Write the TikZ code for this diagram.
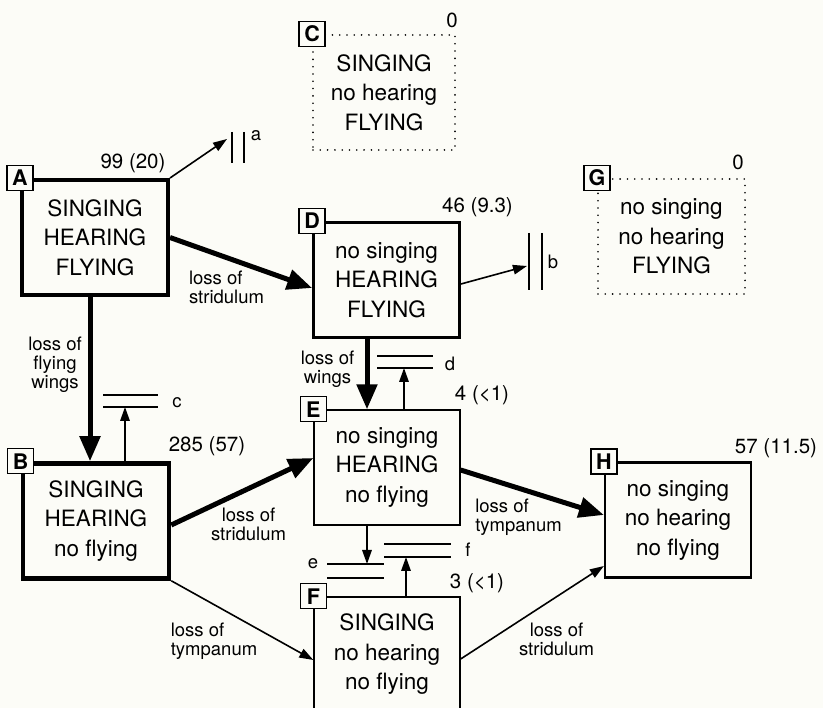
\documentclass[tikz,border=0pt]{standalone}
\usepackage{fontspec}
\setmainfont{TeX Gyre Heros}
\usetikzlibrary{arrows.meta}

\definecolor{paper}{RGB}{252,252,247}

\tikzset{
  statebox/.style={draw, line width=#1, minimum width=146pt, minimum height=115pt,
    inner sep=0pt, align=center, font=\fontsize{22.5}{29.5}\selectfont},
  statebox/.default=1.3pt,
  ghostbox/.style={statebox=1.8pt, dash pattern=on 0pt off 7.3pt, line cap=round},
  tagbox/.style={draw, fill=paper, line width=1.3pt, minimum width=26pt, minimum height=25pt,
    inner sep=0pt, font=\fontsize{21.5}{21.5}\selectfont\bfseries},
  countlbl/.style={inner sep=0pt, font=\fontsize{20.5}{22}\selectfont},
  losslbl/.style={inner sep=0pt, align=#1, font=\fontsize{18.5}{19}\selectfont},
  losslbl/.default=center,
  barlbl/.style={inner sep=0pt, font=\fontsize{18.5}{19}\selectfont},
  bigarrow/.style={line width=5pt, -{Triangle[length=25pt,width=20pt]}},
  smallarrow/.style={line width=1.6pt, -{Triangle[length=14pt,width=9.5pt]}},
  barline/.style={line width=2pt},
}

\begin{document}
\begin{tikzpicture}[x=1pt,y=-1pt]
  \fill[paper] (0,0) rectangle (823,708);
  \useasboundingbox (0,0) rectangle (823,708);

  % states
  \node[statebox=4pt]   (A) at (95,237.5)  {SINGING\\HEARING\\FLYING};
  \node[statebox=4.5pt] (B) at (96,521)    {SINGING\\HEARING\\no flying};
  \node[ghostbox, minimum width=142pt] (C) at (384,92.5) {SINGING\\no hearing\\FLYING};
  \node[statebox=2.8pt] (D) at (386.5,280) {no singing\\HEARING\\FLYING};
  \node[statebox]       (E) at (387,467.5) {no singing\\HEARING\\no flying};
  \node[statebox]       (F) at (387,654.5) {SINGING\\no hearing\\no flying};
  \node[ghostbox, minimum width=147pt] (G) at (671.5,236.5) {no singing\\no hearing\\FLYING};
  \node[statebox=2.2pt] (H) at (678,520)   {no singing\\no hearing\\no flying};

  \foreach \s in {A,B,C,D,E,F,G,H}
    \node[tagbox] (tag\s) at (\s.north west) {\s};

  % counts
  \node[countlbl] (nA) at (133,163)   {99 (20)};
  \node[countlbl] (nB) at (207,446)   {285 (57)};
  \node[countlbl] (nC) at (452,20)    {0};
  \node[countlbl] (nD) at (477.5,207) {46 (9.3)};
  \node[countlbl] (nE) at (482,395)   {4 (<1)};
  \node[countlbl] (nF) at (477,583)   {3 (<1)};
  \node[countlbl] (nG) at (738,162)   {0};
  \node[countlbl] (nH) at (776,448)   {57 (11.5)};

  % dead ends
  \draw[barline] (232,132) -- (232,163)  (244,132) -- (244,163);
  \draw[barline] (529,233) -- (529,290)  (542,233) -- (542,290);
  \draw[barline] (103,395) -- (158,395)  (103,407) -- (158,407);
  \draw[barline] (377,356) -- (433,356)  (377,368) -- (433,368);
  \draw[barline] (327,564) -- (384,564)  (327,578) -- (384,578);
  \draw[barline] (384,544) -- (451,544)  (384,557) -- (451,557);
  \coordinate (aEnd) at (227,139);
  \coordinate (bEnd) at (527,266);
  \coordinate (cEnd) at (125,407);
  \coordinate (dEnd) at (404,368);
  \coordinate (eEnd) at (367,564);
  \coordinate (fEnd) at (406,557);
  \node[barlbl] (ba) at (256,136) {a};
  \node[barlbl] (bb) at (553,262) {b};
  \node[barlbl] (bc) at (177,403) {c};
  \node[barlbl] (bd) at (450,364) {d};
  \node[barlbl] (be) at (313,564) {e};
  \node[barlbl] (bf) at (468,550) {f};

  % transitions
  \draw[bigarrow] (A.east) -- ([yshift=-8pt]D.west);
  \draw[bigarrow] ([xshift=-5pt]A.south) -- ([xshift=-6pt]B.north);
  \draw[bigarrow] ([xshift=-19.5pt]D.south) -- ([xshift=-20pt]E.north);
  \draw[bigarrow] ([yshift=-4pt]B.east) -- ([yshift=9.5pt]E.west);
  \draw[bigarrow] ([yshift=-2.5pt]E.east) -- ([yshift=5pt]H.west);
  \draw[smallarrow] (B.south east) -- ([yshift=-5.5pt]F.west);
  \draw[smallarrow] ([yshift=-4.5pt]F.east) -- ([yshift=-46pt]H.west);

  \draw[smallarrow] (A.north east) -- (aEnd);
  \draw[smallarrow] ([yshift=-4pt]D.east) -- (bEnd);
  \draw[smallarrow] ([xshift=29pt]B.north) -- (cEnd);
  \draw[smallarrow] ([xshift=17pt]E.north) -- (dEnd);
  \draw[smallarrow] ([xshift=-20pt]E.south) -- (eEnd);
  \draw[smallarrow] ([xshift=19pt]F.north) -- (fEnd);

  % labels of the transitions
  \node[losslbl=left] (lAD) at (226.5,287.5) {loss of\\stridulum};
  \node[losslbl]      (lAB) at (55,365)      {loss of\\flying\\wings};
  \node[losslbl]      (lDE) at (327.5,369)   {loss of\\wings};
  \node[losslbl]      (lBE) at (248.5,524)   {loss of\\stridulum};
  \node[losslbl=left] (lBF) at (214,641)     {loss of\\tympanum};
  \node[losslbl=left] (lEH) at (518.5,517.5) {loss of\\tympanum};
  \node[losslbl]      (lFH) at (556.5,639)   {loss of\\stridulum};
\end{tikzpicture}
\end{document}
